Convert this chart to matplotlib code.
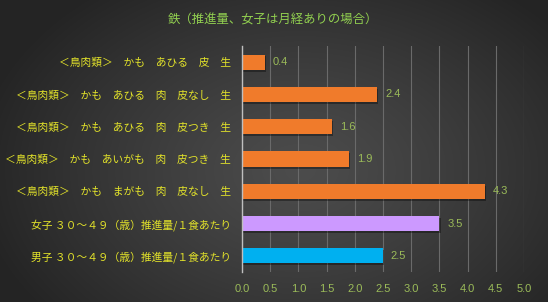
import numpy as np
import matplotlib
matplotlib.use("Agg")
import matplotlib.pyplot as plt

plt.rcParams['font.family'] = ['Noto Sans CJK JP', 'DejaVu Sans']

title = "鉄（推進量、女子は月経ありの場合）"
categories = [
    "＜鳥肉類＞　かも　あひる　皮　生",
    "＜鳥肉類＞　かも　あひる　肉　皮なし　生",
    "＜鳥肉類＞　かも　あひる　肉　皮つき　生",
    "＜鳥肉類＞　かも　あいがも　肉　皮つき　生",
    "＜鳥肉類＞　かも　まがも　肉　皮なし　生",
    "女子 ３０～４９（歳）推進量/１食あたり",
    "男子 ３０～４９（歳）推進量/１食あたり",
]
values = [0.4, 2.4, 1.6, 1.9, 4.3, 3.5, 2.5]
bar_colors = ["#F07B2B"] * 5 + ["#CC99FF", "#00B0F0"]
xticks = [0.0, 0.5, 1.0, 1.5, 2.0, 2.5, 3.0, 3.5, 4.0, 4.5, 5.0]

W, H = 548, 302
fig = plt.figure(figsize=(W / 100, H / 100), dpi=100)

# radial background gradient
bg = fig.add_axes([0, 0, 1, 1])
yy, xx = np.mgrid[0:H, 0:W]
r = np.sqrt(((xx - 300) / 330.0) ** 2 + ((yy - 170) / 230.0) ** 2)
r = np.clip(r, 0, 1)
c_in, c_out = 0x4c / 255, 0x24 / 255
g = c_in + (c_out - c_in) * r ** 1.2
img = np.dstack([g, g, g])
bg.imshow(img, aspect='auto', extent=[0, 1, 0, 1], origin='upper')
bg.axis('off')

ax = fig.add_axes([242 / W, 1 - 272 / H, (524 - 242) / W, (272 - 46) / H])
ax.set_facecolor('none')
n = len(categories)
y = np.arange(n)
# shadows
ax.barh(y + 0.06, values, height=0.47, left=0.02, color='black', alpha=0.35, zorder=2)
bars = ax.barh(y, values, height=0.47, color=bar_colors, zorder=3)
ax.set_ylim(n - 0.5, -0.5)
ax.set_xlim(0, 5.0)
ax.set_xticks(xticks)
ax.set_xticklabels([f"{t:.1f}" for t in xticks], color='#9BBB59', fontsize=8,
                   family=['Liberation Sans', 'DejaVu Sans'])
ax.set_yticks(y)
ax.set_yticklabels(categories, color='#E3E32A', fontsize=7.75)
ax.tick_params(axis='both', length=0, pad=8)
ax.tick_params(axis='x', pad=9)
ax.grid(axis='x', color='#6a6a6a', linewidth=0.8, zorder=0)
for s in ['top', 'right', 'bottom']:
    ax.spines[s].set_visible(False)
ax.spines['left'].set_color('#bfbfbf')
ax.spines['left'].set_linewidth(1.0)
ax.spines['left'].set_zorder(4)

for yi, v in zip(y, values):
    ax.text(v + 0.14, yi, f"{v:.1f}", va='center', ha='left', color='#9BBB59',
            fontsize=8, family=['Liberation Sans', 'DejaVu Sans'], zorder=5)

fig.text(273 / W, 1 - 20 / H, title, ha='center', va='center', color='#92D050', fontsize=8.9)

fig.savefig("out.png", dpi=100)
